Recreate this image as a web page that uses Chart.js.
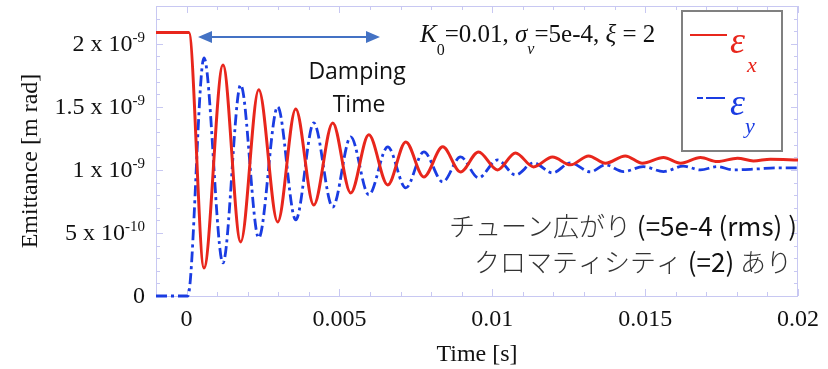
<!DOCTYPE html>
<html>
<head>
<meta charset="utf-8">
<script src="https://cdn.jsdelivr.net/npm/chart.js@4.4.1/dist/chart.umd.min.js"></script>
<style>
  html, body { margin: 0; padding: 0; background: #fff; }
  canvas { display: block; }
</style>
</head>
<body>
<canvas id="chart-1" width="828" height="369"></canvas>
<script>
// time [s] and emittance [x 1e-9 m rad] (turning points)
const tX = [-0.001, 0.000075, 0.00057, 0.00119, 0.00177, 0.00236, 0.00298, 0.00357, 0.00416, 0.00478,
  0.00537, 0.00596, 0.00658, 0.00717, 0.00776, 0.00838, 0.00896, 0.00955, 0.01017, 0.01076,
  0.01135, 0.01197, 0.01256, 0.01315, 0.0137, 0.01435, 0.01491, 0.0156, 0.01616, 0.01681,
  0.01736, 0.01802, 0.01854, 0.0191, 0.02];
const epsX = [2.09, 2.09, 0.222, 1.833, 0.429, 1.635, 0.587, 1.484, 0.722, 1.373,
  0.817, 1.278, 0.881, 1.222, 0.944, 1.183, 0.984, 1.143, 1.0, 1.135,
  1.024, 1.103, 1.04, 1.111, 1.053, 1.111, 1.053, 1.098, 1.053, 1.098,
  1.066, 1.093, 1.071, 1.085, 1.079];

const tY = [-0.001, 0.00004, 0.00057, 0.00119, 0.00177, 0.00236, 0.00298, 0.00357, 0.00416, 0.00478,
  0.00537, 0.00596, 0.00658, 0.00717, 0.00776, 0.00838, 0.00896, 0.00955, 0.01017, 0.01076,
  0.01135, 0.01197, 0.01256, 0.01321, 0.0137, 0.01429, 0.01494, 0.0156, 0.01625, 0.01681,
  0.01736, 0.01788, 0.01867, 0.01932, 0.02];
const epsY = [0, 0, 1.889, 0.262, 1.675, 0.46, 1.5, 0.603, 1.373, 0.706,
  1.262, 0.802, 1.183, 0.857, 1.143, 0.905, 1.103, 0.937, 1.079, 0.96,
  1.056, 0.976, 1.056, 0.984, 1.04, 0.987, 1.026, 0.987, 1.03, 1.0,
  1.026, 1.0, 1.008, 1.016, 1.016];

const xTicks = [0, 0.005, 0.01, 0.015, 0.02];
const xTickLabels = ['0', '0.005', '0.01', '0.015', '0.02'];
const yTicks = [0, 0.5, 1, 1.5, 2];
const yTickBase = ['0', '5 x 10', '1 x 10', '1.5 x 10', '2 x 10'];
const yTickExp = ['', '-10', '-9', '-9', '-9'];

const RED = '#e8261c';
const BLUE = '#1a3ce2';
const FRAME = '#c8c8f2';
const SERIF = '"Liberation Serif", "Times New Roman", serif';
const JP_THIN = '300 26px "Noto Sans CJK JP", sans-serif';
const JP_REG = '26px "Noto Sans CJK JP", sans-serif';

// draw a run of [text, font, colour] pieces ending at x
function drawRight(ctx, pieces, x, y) {
  let w = 0;
  pieces.forEach(([t, f]) => { ctx.font = f; w += ctx.measureText(t).width; });
  let cx = x - w;
  ctx.textAlign = 'left';
  ctx.textBaseline = 'middle';
  pieces.forEach(([t, f, c]) => {
    ctx.font = f;
    ctx.fillStyle = c;
    ctx.fillText(t, cx, y);
    cx += ctx.measureText(t).width;
  });
}

const decor = {
  id: 'decor',
  beforeDatasetsDraw(chart) {
    const { ctx, chartArea: a, scales: { x, y } } = chart;
    ctx.save();
    ctx.strokeStyle = FRAME;
    ctx.lineWidth = 1;
    ctx.strokeRect(a.left + 0.5, a.top + 0.5, a.right - a.left - 1, a.bottom - a.top);
    ctx.beginPath();
    for (let i = -1; i <= 20; i++) {
      const px = Math.round(x.getPixelForValue(i * 0.001)) + 0.5;
      const len = i % 5 === 0 ? 7 : 4;
      ctx.moveTo(px, a.bottom); ctx.lineTo(px, a.bottom - len);
      ctx.moveTo(px, a.top); ctx.lineTo(px, a.top + len);
    }
    for (let i = 0; i <= 23; i++) {
      const py = Math.round(y.getPixelForValue(i * 0.1)) + 0.5;
      const len = i % 5 === 0 ? 7 : 4;
      ctx.moveTo(a.left, py); ctx.lineTo(a.left + len, py);
      ctx.moveTo(a.right, py); ctx.lineTo(a.right - len, py);
    }
    ctx.stroke();
    ctx.restore();
  },
  afterDraw(chart) {
    const { ctx, chartArea: a, scales: { y } } = chart;
    ctx.save();
    ctx.fillStyle = '#111';

    // y tick labels with exponents
    yTicks.forEach((v, i) => {
      const py = y.getPixelForValue(v);
      const right = a.left - 11;
      ctx.font = '15px ' + SERIF;
      const ew = ctx.measureText(yTickExp[i]).width;
      ctx.textAlign = 'left';
      ctx.textBaseline = 'alphabetic';
      ctx.fillText(yTickExp[i], right - ew, py - 2);
      ctx.font = '24px ' + SERIF;
      ctx.textAlign = 'right';
      ctx.textBaseline = 'middle';
      ctx.fillText(yTickBase[i], right - ew, py + 1);
    });

    // y title
    ctx.save();
    ctx.translate(31, 161);
    ctx.rotate(-Math.PI / 2);
    ctx.font = '24px ' + SERIF;
    ctx.textAlign = 'center';
    ctx.textBaseline = 'middle';
    ctx.fillText('Emittance [m rad]', 0, 0);
    ctx.restore();

    // parameter line
    const parts = [
      ['K', 'italic 25px', 0], ['0', '16px', 13], ['=0.01, ', '25px', 0],
      ['σ', 'italic 25px', 0], ['v', 'italic 16px', 12], ['=5e-4, ', '25px', 0],
      ['ξ', 'italic 25px', 0], [' = 2', '25px', 0]
    ];
    let cx = 420;
    ctx.textAlign = 'left';
    ctx.textBaseline = 'alphabetic';
    parts.forEach(([t, f, dy]) => {
      ctx.font = f + ' ' + SERIF;
      ctx.fillText(t, cx, 42 + dy);
      cx += ctx.measureText(t).width;
    });

    // damping time arrow
    const ay = 37, ax1 = 198, ax2 = 380;
    ctx.strokeStyle = '#4472c4';
    ctx.fillStyle = '#4472c4';
    ctx.lineWidth = 2;
    ctx.beginPath();
    ctx.moveTo(ax1 + 8, ay); ctx.lineTo(ax2 - 8, ay);
    ctx.stroke();
    ctx.beginPath();
    ctx.moveTo(ax1, ay); ctx.lineTo(ax1 + 14, ay - 6); ctx.lineTo(ax1 + 14, ay + 6); ctx.closePath();
    ctx.moveTo(ax2, ay); ctx.lineTo(ax2 - 14, ay - 6); ctx.lineTo(ax2 - 14, ay + 6); ctx.closePath();
    ctx.fill();

    ctx.fillStyle = '#111';
    ctx.font = '23px "Open Sans", sans-serif';
    ctx.textAlign = 'center';
    ctx.fillText('Damping', 357, 79);
    ctx.fillText('Time', 359, 112);

    // Japanese notes
    drawRight(ctx, [['チューン広がり', JP_THIN, '#333'], [' (=5e-4 (rms) )', JP_REG, '#111']], 797, 226);
    drawRight(ctx, [['クロマティシティ', JP_THIN, '#333'], [' (=2) ', JP_REG, '#111'], ['あり', JP_THIN, '#333']], 792, 262);

    // legend box
    ctx.fillStyle = '#fff';
    ctx.fillRect(682, 11, 100, 140);
    ctx.strokeStyle = '#808080';
    ctx.lineWidth = 2;
    ctx.strokeRect(682, 11, 100, 140);
    const ds = chart.data.datasets;
    ctx.lineWidth = 2;
    ctx.strokeStyle = ds[0].borderColor;
    ctx.beginPath(); ctx.moveTo(690, 35); ctx.lineTo(727, 35); ctx.stroke();
    ctx.strokeStyle = ds[1].borderColor;
    ctx.beginPath(); ctx.moveTo(697, 98); ctx.lineTo(703, 98); ctx.moveTo(706, 98); ctx.lineTo(725, 98); ctx.stroke();
    ctx.textAlign = 'left';
    ctx.textBaseline = 'alphabetic';
    ctx.fillStyle = ds[0].borderColor;
    ctx.font = 'italic 38px ' + SERIF;
    ctx.fillText('ε', 730, 53);
    ctx.font = 'italic 22px ' + SERIF;
    ctx.fillText('x', 747, 72);
    ctx.fillStyle = ds[1].borderColor;
    ctx.font = 'italic 38px ' + SERIF;
    ctx.fillText('ε', 730, 115);
    ctx.font = 'italic 22px ' + SERIF;
    ctx.fillText('y', 745, 133);
    ctx.restore();
  }
};

new Chart(document.getElementById('chart-1'), {
  type: 'line',
  data: {
    datasets: [
      {
        label: 'εx',
        data: tX.map((t, i) => ({ x: t, y: epsX[i] })),
        borderColor: RED,
        borderWidth: 3,
        pointRadius: 0,
        cubicInterpolationMode: 'monotone',
        clip: 4,
      },
      {
        label: 'εy',
        data: tY.map((t, i) => ({ x: t, y: epsY[i] })),
        borderColor: BLUE,
        borderWidth: 2.8,
        borderDash: [11, 4, 3, 4],
        pointRadius: 0,
        cubicInterpolationMode: 'monotone',
        clip: 4,
      },
    ],
  },
  options: {
    responsive: false,
    animation: false,
    devicePixelRatio: 1,
    layout: { padding: { top: 6, right: 30, left: 0, bottom: 0 } },
    plugins: { legend: { display: false }, tooltip: { enabled: false } },
    scales: {
      x: {
        type: 'linear',
        min: -0.001,
        max: 0.02,
        grid: { display: false, drawTicks: false },
        border: { display: false },
        afterBuildTicks: (s) => { s.ticks = xTicks.map((v) => ({ value: v })); },
        ticks: {
          callback: (v, i) => xTickLabels[i],
          font: { family: SERIF, size: 24 },
          color: '#111',
          padding: 9,
          maxRotation: 0,
          autoSkip: false,
        },
        title: {
          display: true,
          text: 'Time [s]',
          font: { family: SERIF, size: 24 },
          color: '#111',
          padding: { top: 0, bottom: 0 },
        },
        afterFit: (s) => { s.height = 73; },
      },
      y: {
        min: 0,
        max: 2.3,
        grid: { display: false, drawTicks: false },
        border: { display: false },
        ticks: { display: false },
        afterFit: (s) => { s.width = 156; },
      },
    },
  },
  plugins: [decor],
});
</script>
</body>
</html>
